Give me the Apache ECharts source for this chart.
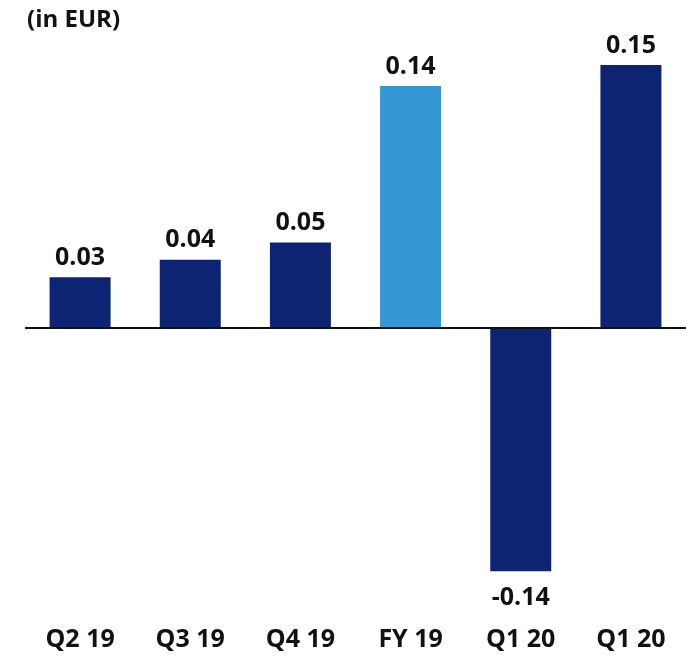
<!DOCTYPE html>
<html>
<head>
<meta charset="utf-8">
<script src="https://cdn.jsdelivr.net/npm/echarts@6/dist/echarts.min.js"></script>
<style>
  html, body { margin: 0; padding: 0; background: #fff; }
  #chart { width: 690px; height: 658px; }
</style>
</head>
<body>
<div id="chart"></div>
<script>
const categories = ['Q2 19', 'Q3 19', 'Q4 19', 'FY 19', 'Q1 20', 'Q1 20'];
const values = [0.029, 0.039, 0.049, 0.139, -0.140, 0.151];
const barColors = ['#0c2472', '#0c2472', '#0c2472', '#3598d6', '#0c2472', '#0c2472'];

const chart = echarts.init(document.getElementById('chart'));
const font = '"Open Sans", "Noto Sans", sans-serif';

const option = {
    title: {
        text: '(in EUR)',
        left: 22,
        top: 3,
        textStyle: { fontFamily: font, fontSize: 24, fontWeight: 'bold', color: '#111' }
    },
    grid: { left: 25, right: 4, top: 32, bottom: 52 },
    xAxis: {
        type: 'category',
        data: categories,
        axisLine: { show: false },
        axisTick: { show: false },
        axisLabel: { fontFamily: font, fontSize: 25, fontWeight: 'bold', color: '#111', margin: 21 }
    },
    yAxis: {
        type: 'value',
        min: -0.16,
        max: 0.17,
        show: false
    },
    series: [{
        type: 'bar',
        barWidth: 61,
        data: values.map((v, i) => ({
            value: v,
            itemStyle: { color: barColors[i] },
            label: { position: v < 0 ? 'bottom' : 'top', distance: v < 0 ? 14 : 7 }
        })),
        label: {
            show: true,
            fontFamily: font,
            fontSize: 25,
            fontWeight: 'bold',
            color: '#111',
            formatter: p => p.value.toFixed(2)
        },
        markLine: {
            silent: true,
            symbol: 'none',
            label: { show: false },
            lineStyle: { color: '#111', width: 2, type: 'solid' },
            data: [{ yAxis: 0 }]
        }
    }]
};

chart.setOption(option);
</script>
</body>
</html>
